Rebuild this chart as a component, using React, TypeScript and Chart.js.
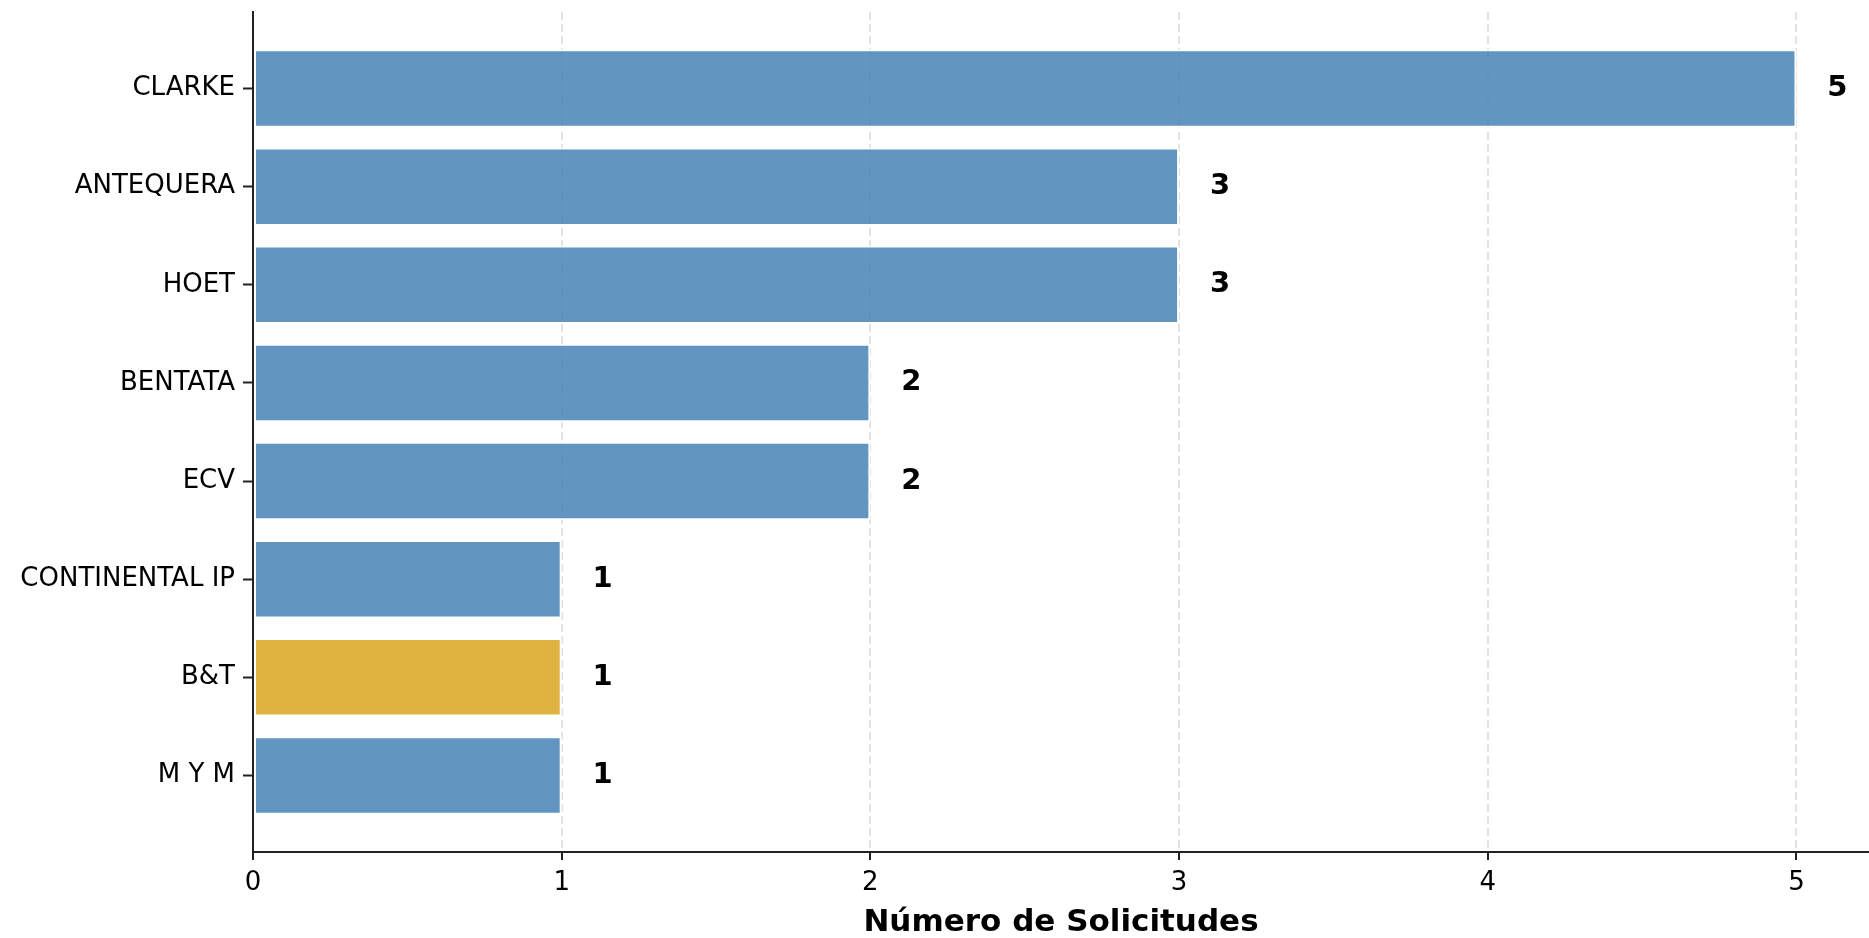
import React, { useEffect, useRef } from "react";
import { Chart, registerables } from "chart.js";

Chart.register(...registerables);

const categories: string[] = [
  "CLARKE",
  "ANTEQUERA",
  "HOET",
  "BENTATA",
  "ECV",
  "CONTINENTAL IP",
  "B&T",
  "M Y M",
];
const values: number[] = [5, 3, 3, 2, 2, 1, 1, 1];
const highlighted: string[] = ["B&T"];
const xTicks: number[] = [0, 1, 2, 3, 4, 5];
const xTitle = "Número de Solicitudes";

const BLUE = "rgba(70,130,180,0.85)";
const GOLD = "rgba(218,165,32,0.85)";
const FONT = "'DejaVu Sans', sans-serif";

const valueLabels = {
  id: "valueLabels",
  afterDatasetsDraw(chart: any) {
    const ctx = chart.ctx;
    const meta = chart.getDatasetMeta(0);
    const xs = chart.scales.x;
    ctx.save();
    ctx.font = `bold 29px ${FONT}`;
    ctx.fillStyle = "#000";
    ctx.textAlign = "left";
    ctx.textBaseline = "middle";
    meta.data.forEach((bar: any, i: number) => {
      const x = xs.getPixelForValue(values[i] + 0.1);
      ctx.fillText(String(values[i]), x, bar.y);
    });
    ctx.restore();
  },
};

export default function App() {
  const ref = useRef<HTMLCanvasElement | null>(null);
  useEffect(() => {
    document.body.style.margin = "0";
    const canvas = ref.current!;
    const chart = new Chart(canvas, {
      type: "bar",
      data: {
        datasets: [
          {
            data: values.map((v, i) => ({ x: v, y: i })) as any,
            backgroundColor: categories.map((c) =>
              highlighted.includes(c) ? GOLD : BLUE
            ),
            borderColor: "#ffffff",
            borderWidth: 2,
            borderSkipped: false,
            barPercentage: 0.8,
            categoryPercentage: 1,
          },
        ],
      },
      options: {
        indexAxis: "y",
        animation: false,
        responsive: false,
        devicePixelRatio: 1,
        layout: { padding: { top: 12, right: 0, left: 0, bottom: 0 } },
        plugins: { legend: { display: false }, tooltip: { enabled: false } },
        scales: {
          x: {
            type: "linear",
            position: "bottom",
            offset: false,
            min: 0,
            max: 5.235,
            afterBuildTicks: (s: any) => {
              s.ticks = xTicks.map((v) => ({ value: v }));
            },
            afterFit: (s: any) => {
              s.height = 86;
              s.paddingLeft = 0;
              s.paddingRight = 0;
            },
            ticks: {
              stepSize: 1,
              includeBounds: false,
              color: "#000",
              padding: 8,
              font: { size: 26, family: FONT },
              maxRotation: 0,
            },
            grid: {
              display: true,
              offset: false,
              drawOnChartArea: true,
              color: "#e2e2e2",
              lineWidth: 2,
              drawTicks: true,
              tickLength: 8,
              tickColor: "#222",
              tickWidth: 2,
              tickBorderDash: [],
            },
            border: { display: true, color: "#222", width: 2, dash: [8, 4], z: 1 },
            title: {
              display: true,
              text: xTitle,
              color: "#000",
              font: { size: 31, weight: "bold", family: FONT, lineHeight: 1 },
              padding: { top: 0, bottom: 0 },
            },
          },
          y: {
            type: "linear",
            reverse: true,
            offset: false,
            min: -0.78,
            max: 7.78,
            afterBuildTicks: (s: any) => {
              s.ticks = categories.map((_, i) => ({ value: i }));
            },
            afterFit: (s: any) => {
              s.width = 253;
              s.paddingTop = 0;
              s.paddingBottom = 0;
            },
            ticks: {
              stepSize: 1,
              includeBounds: false,
              autoSkip: false,
              color: "#000",
              padding: 8,
              font: { size: 26, family: FONT },
              callback: (v: any) => {
                const i = Number(v);
                return Number.isInteger(i) && categories[i] !== undefined ? categories[i] : "";
              },
            },
            grid: {
              display: true,
              offset: false,
              drawOnChartArea: false,
              drawTicks: true,
              tickLength: 10,
              tickColor: "#222",
              tickWidth: 2,
            },
            border: { display: true, color: "#222", width: 2, z: 1 },
          },
        },
      },
      plugins: [valueLabels],
    });
    return () => chart.destroy();
  }, []);
  return (
    <div style={{ width: 1869, height: 938 }}>
      <canvas ref={ref} width={1869} height={938} style={{ display: "block" }} />
    </div>
  );
}
